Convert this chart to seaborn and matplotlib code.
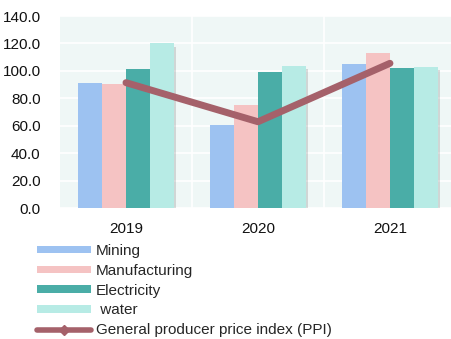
import numpy as np
import pandas as pd
import matplotlib
matplotlib.use("Agg")
import matplotlib.pyplot as plt
import matplotlib.patheffects as pe
from matplotlib.lines import Line2D
from matplotlib.patches import Patch
import seaborn as sns

# Index values by year
years = ["2019", "2020", "2021"]
mining = [91.4, 60.5, 104.8]
manufacturing = [90.4, 75.1, 112.8]
electricity = [101.1, 99.4, 102.3]
water = [120.1, 103.6, 102.8]
ppi = [91.4, 62.9, 105.5]

sectors = ["Mining", "Manufacturing", "Electricity", " water"]
colors = ["#9DC2F1", "#F5C3C3", "#4AADA7", "#B7EBE5"]
ppi_label = "General producer price index (PPI)"
ppi_color = "#A5616A"
yticks = [0, 20, 40, 60, 80, 100, 120, 140]

df = pd.DataFrame({
    "year": years * 4,
    "sector": np.repeat(sectors, len(years)),
    "value": mining + manufacturing + electricity + water,
})

sns.set_theme(style="white")
plt.rcParams["font.family"] = ["Liberation Sans", "DejaVu Sans"]

fig = plt.figure(figsize=(4.52, 3.39), dpi=100)
ax = fig.add_axes([0.1327, 0.3864, 0.8673, 0.5664])
ax.set_facecolor("#EFF7F6")

sns.barplot(data=df, x="year", y="value", hue="sector", order=years,
            hue_order=sectors, palette=colors, width=0.73, saturation=1,
            linewidth=0, ax=ax, legend=False)

# soft drop shadow on the last series
for bar in ax.containers[3]:
    bar.set_path_effects([pe.SimplePatchShadow(offset=(1.5, -2.5), alpha=0.2, shadow_rgbFace="#555555"),
                          pe.Normal()])

sns.lineplot(x=np.arange(len(years)), y=ppi, color=ppi_color, lw=5,
             ax=ax, solid_capstyle="round", zorder=5)

ax.set_ylim(0, 140)
ax.set_xlim(-0.5, 2.47)
ax.set_yticks(yticks)
ax.set_yticklabels([f"{v:.1f}" for v in yticks])
ax.set_xticks(range(len(years)))
ax.set_xticklabels(years)
ax.set_xticks([0.5, 1.5], minor=True)
ax.grid(axis="y", color="white", lw=1.2)
ax.grid(axis="x", which="minor", color="white", lw=1.2)
ax.set_axisbelow(True)
for s in ax.spines.values():
    s.set_visible(False)
ax.set_xlabel("")
ax.set_ylabel("")
ax.tick_params(axis="both", length=0, labelsize=11, colors="#111111")
ax.tick_params(axis="y", pad=14)
ax.tick_params(axis="x", pad=10)

handles = [Patch(facecolor=c, edgecolor="none") for c in colors]
handles.append(Line2D([0], [0], color=ppi_color, lw=4, marker="D",
                      markersize=5, solid_capstyle="round"))
fig.legend(handles, sectors + [ppi_label], loc="upper left",
           bbox_to_anchor=(0.082, 0.280), frameon=False, fontsize=11,
           handlelength=3.5, handleheight=0.4, labelspacing=0.38,
           handletextpad=0.35, borderpad=0, borderaxespad=0)

fig.savefig("out.png", dpi=100)
